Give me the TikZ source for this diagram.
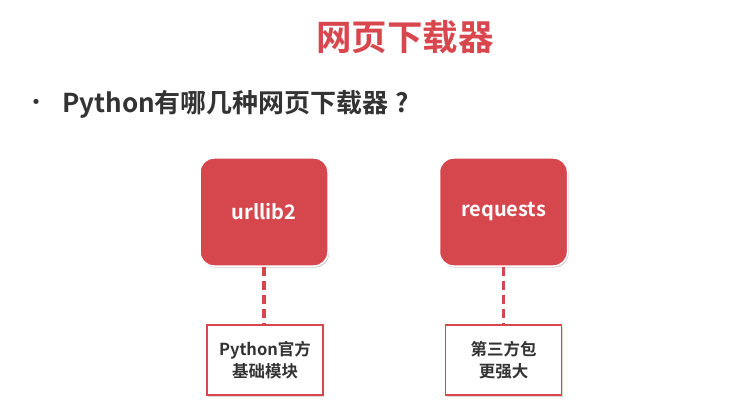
\documentclass[tikz,border=0pt]{standalone}
\usepackage{fontspec}
\setmainfont{Noto Sans CJK SC}
\newfontfamily\cjkbold{Noto Sans CJK SC Bold}
\usetikzlibrary{shadows}
\definecolor{boxred}{HTML}{D6464D}
\definecolor{titlered}{HTML}{D8474E}
\definecolor{darktext}{HTML}{333333}
\tikzset{
  x=1pt, y=-1pt,
  lib/.style={draw=white, line width=1.5pt, fill=boxred, rounded corners=14pt,
    minimum width=128pt, minimum height=108pt, inner sep=0pt,
    text=white, font=\cjkbold\fontsize{20}{22}\selectfont,
    drop shadow={shadow xshift=1pt, shadow yshift=-1.5pt, opacity=0.35, fill=black!60}},
  note/.style={draw=boxred, line width=1.6pt, fill=white,
    minimum width=116pt, minimum height=70pt, inner sep=0pt, align=center,
    text=darktext, font=\cjkbold\fontsize{16.5}{22}\selectfont,
    drop shadow={shadow xshift=1pt, shadow yshift=-1.5pt, opacity=0.3, fill=black!50}},
  link/.style={draw=boxred, line width=3.2pt, dash pattern=on 9pt off 5pt}
}
\begin{document}
\begin{tikzpicture}
\useasboundingbox (0,0) rectangle (750,409);
\fill[white] (0,0) rectangle (750,409);
\node[text=titlered, font=\cjkbold\fontsize{35.5}{38}\selectfont] (title) at (405,37) {网页下载器};
\node[text=darktext, font=\cjkbold\fontsize{20}{24}\selectfont] (bullet) at (37,104) {•};
\node[anchor=west, inner sep=0pt, text=darktext, font=\cjkbold\fontsize{26}{28}\selectfont] (q) at (62,104) {Python有哪几种网页下载器\hspace{7pt}?};
\node[lib] (u) at (264,212) {urllib2};
\node[lib] (r) at (503.5,212) {requests};
\node[note] (un) at (265,360) {Python官方\\基础模块};
\node[note] (rn) at (503.5,360) {第三方包\\更强大};
\draw[link] (u.south) -- (u.south |- un.north);
\draw[link] (r.south) -- (r.south |- rn.north);
\end{tikzpicture}
\end{document}
